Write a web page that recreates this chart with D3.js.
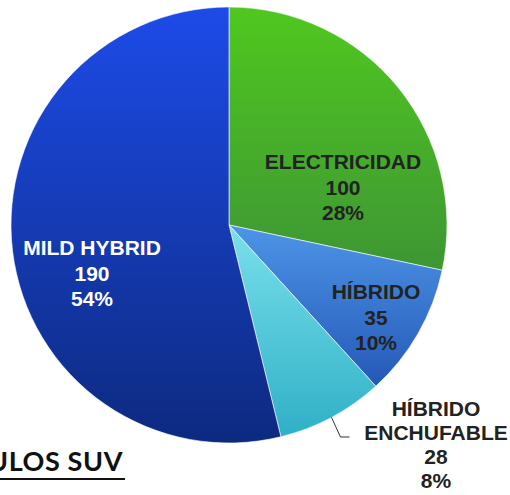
<!DOCTYPE html>
<html lang="es">
<head>
<meta charset="UTF-8"/>
<title>Vehículos SUV</title>
<script src="https://d3js.org/d3.v7.min.js"></script>
<style>
  body { margin: 0; background: #fff; }
  .lbl { font-family: "Liberation Sans", Arial, sans-serif; font-weight: bold; font-size: 21px; }
</style>
</head>
<body>
<div id="chart"></div>
<script>
// data
var categories = ["ELECTRICIDAD", "HÍBRIDO", "HÍBRIDO ENCHUFABLE", "MILD HYBRID"];
var values = [100, 35, 28, 190];
var percents = ["28%", "10%", "8%", "54%"];
var topColors = ["#50c81f", "#4d95e6", "#7ae0ec", "#1d4be8"];
var bottomColors = ["#3e9634", "#2558b8", "#2fb0c6", "#0d2a80"];
var textColors = ["#222", "#222", "#222", "#fff"];

var w = 510, h = 495;
var cx = 229, cy = 225, r = 218;

var svg = d3.select("#chart").append("svg")
  .attr("width", w)
  .attr("height", h);

var defs = svg.append("defs");
categories.forEach(function(c, i) {
  var g = defs.append("linearGradient")
    .attr("id", "grad" + i)
    .attr("x1", 0).attr("y1", 0).attr("x2", 0).attr("y2", 1);
  g.append("stop").attr("offset", "0%").attr("stop-color", topColors[i]);
  g.append("stop").attr("offset", "100%").attr("stop-color", bottomColors[i]);
});

var pie = d3.pie().sort(null).value(function(d) { return d; });
var arcs = pie(values);
var arc = d3.arc().innerRadius(0).outerRadius(r);

var g = svg.append("g").attr("transform", "translate(" + cx + "," + cy + ")");

g.selectAll("path")
  .data(arcs)
  .enter()
  .append("path")
  .attr("d", arc)
  .attr("fill", function(d, i) { return "url(#grad" + i + ")"; })
  .attr("stroke", "#fff")
  .attr("stroke-width", 0.6);

// label positions relative to centre (baseline of first line)
var labelPos = [[114, -56], [147, 74], [207, 191], [-137, 30]];

arcs.forEach(function(d, i) {
  var lines = categories[i] == "HÍBRIDO ENCHUFABLE"
    ? ["HÍBRIDO", "ENCHUFABLE", values[i], percents[i]]
    : [categories[i], values[i], percents[i]];
  var lh = lines.length == 4 ? 24 : 25.5;
  var t = g.append("text")
    .attr("class", "lbl")
    .attr("text-anchor", "middle")
    .attr("fill", textColors[i])
    .attr("x", labelPos[i][0])
    .attr("y", labelPos[i][1]);
  lines.forEach(function(l, k) {
    t.append("tspan")
      .attr("x", labelPos[i][0])
      .attr("dy", k == 0 ? 0 : lh)
      .text(l);
  });
});

// leader line for the small slice
var small = arcs[2];
var mid = (small.startAngle + small.endAngle) / 2;
var p0 = [Math.sin(mid) * r, -Math.cos(mid) * r];
g.append("path")
  .attr("d", "M" + p0[0] + "," + p0[1] + "L" + (p0[0] + 9) + "," + 212 + "L" + (p0[0] + 18) + "," + 212)
  .attr("fill", "none")
  .attr("stroke", "#333")
  .attr("stroke-width", 1);

// title, cut off at the left edge as in the source
svg.append("text")
  .attr("x", 123)
  .attr("y", 471)
  .attr("text-anchor", "end")
  .style("font-family", "Lato, 'Open Sans', sans-serif")
  .style("font-weight", "bold")
  .style("font-size", "27px")
  .style("letter-spacing", "0.6px")
  .attr("fill", "#111")
  .text("VEHÍCULOS SUV");

svg.append("line")
  .attr("x1", 0).attr("x2", 125)
  .attr("y1", 479).attr("y2", 479)
  .attr("stroke", "#111")
  .attr("stroke-width", 2);
</script>
</body>
</html>
